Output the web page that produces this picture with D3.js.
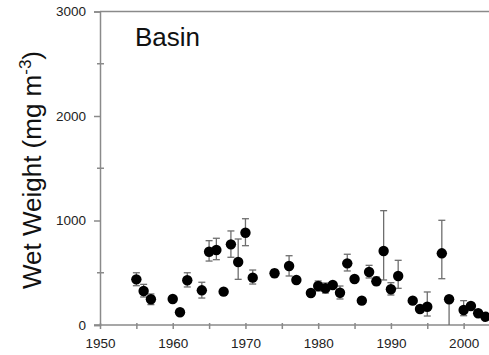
<!DOCTYPE html>
<html><head><meta charset="utf-8">
<script src="https://cdn.jsdelivr.net/npm/d3@7"></script>
<style>body{margin:0;background:#fff;overflow:hidden}svg{display:block}</style>
</head><body>
<script>
const years = [1955,1956,1957,1960,1961,1962,1964,1965,1966,1967,1968,1969,1970,1971,1974,1976,1977,1979,1980,1981,1982,1983,1984,1985,1986,1987,1988,1989,1990,1991,1993,1994,1995,1997,1998,2000,2001,2002,2003];
const values = [437,325,246,249,122,428,332,701,718,319,772,603,883,453,495,565,431,306,373,351,383,309,590,440,233,507,418,708,342,469,233,153,175,686,246,144,182,112,79];
const upper  = [500,389,297,249,122,500,409,807,830,340,900,823,1017,526,531,663,431,306,421,402,383,373,677,440,233,571,459,1094,405,619,233,153,316,1002,246,233,182,112,79];
const lower  = [376,268,195,249,122,364,258,612,625,300,648,437,759,392,459,469,431,306,325,306,383,249,517,440,233,450,383,431,287,351,233,153,86,443,0,89,182,112,79];
const yTicksMajor = [0,1000,2000,3000];
const yTicksMinor = [500,1500,2500];
const xTicks = [1950,1955,1960,1965,1970,1975,1980,1985,1990,1995,2000,2005];
const xLabels = [1950,1960,1970,1980,1990,2000];
const panelLabel = "Basin";

const W = 489, H = 355;
const svg = d3.select("body").append("svg").attr("width", W).attr("height", H);
const x = d3.scaleLinear().domain([1950, 2005]).range([100, 500]);
const y = d3.scaleLinear().domain([0, 3000]).range([325, 11.5]);
const axisCol = "#8a8a8a", font = "Arial, 'Liberation Sans', sans-serif";

// top frame line
svg.append("line").attr("x1", x(1950)).attr("x2", W).attr("y1", y(3000)).attr("y2", y(3000))
  .attr("stroke", axisCol).attr("stroke-width", 1.5);

// y axis
const ya = svg.append("g").attr("transform", `translate(${x(1950)},0)`)
  .call(d3.axisLeft(y).tickValues(yTicksMajor).tickSize(6).tickPadding(8).tickFormat(d3.format("d")));
ya.select(".domain").attr("stroke", axisCol).attr("stroke-width", 1.5);
ya.selectAll(".tick line").attr("stroke", axisCol).attr("stroke-width", 1.5);
ya.selectAll(".tick text").attr("font-family", font).attr("font-size", 13.5).attr("fill", "#222");
svg.append("g").selectAll("line").data(yTicksMinor).join("line")
  .attr("x1", x(1950) - 3).attr("x2", x(1950) + 4)
  .attr("y1", d => y(d)).attr("y2", d => y(d))
  .attr("stroke", axisCol).attr("stroke-width", 1.5);

// x axis
const xa = svg.append("g").attr("transform", `translate(0,${y(0)})`)
  .call(d3.axisBottom(x).tickValues(xTicks).tickSize(4).tickPadding(9)
    .tickFormat(d => xLabels.includes(d) ? d : ""));
xa.select(".domain").attr("stroke", axisCol).attr("stroke-width", 1.5).attr("d", `M${x(1950)-6},0H${W}`);
xa.selectAll(".tick line").attr("stroke", axisCol).attr("stroke-width", 1.5).attr("y1", -2);
xa.selectAll(".tick text").attr("font-family", font).attr("font-size", 13.5).attr("fill", "#222");

// error bars
const data = years.map((yr, i) => ({yr, v: values[i], hi: upper[i], lo: lower[i]}));
const eb = svg.append("g").attr("stroke", "#6e6e6e").attr("stroke-width", 1.3);
data.filter(d => d.hi > d.v).forEach(d => {
  eb.append("line").attr("x1", x(d.yr)).attr("x2", x(d.yr)).attr("y1", y(d.v)).attr("y2", y(d.hi));
  eb.append("line").attr("x1", x(d.yr) - 3.5).attr("x2", x(d.yr) + 3.5).attr("y1", y(d.hi)).attr("y2", y(d.hi));
});
data.filter(d => d.lo < d.v).forEach(d => {
  eb.append("line").attr("x1", x(d.yr)).attr("x2", x(d.yr)).attr("y1", y(d.v)).attr("y2", y(d.lo));
  if (d.lo > 0) eb.append("line").attr("x1", x(d.yr) - 3.5).attr("x2", x(d.yr) + 3.5).attr("y1", y(d.lo)).attr("y2", y(d.lo));
});

// points
svg.append("g").selectAll("circle").data(data).join("circle")
  .attr("cx", d => x(d.yr)).attr("cy", d => y(d.v)).attr("r", 5.2).attr("fill", "#000");

// labels
svg.append("text").attr("x", 135).attr("y", 46).attr("font-family", font).attr("font-size", 26)
  .attr("fill", "#111").text(panelLabel);
const yt = svg.append("text").attr("transform", "translate(41,170) rotate(-90)")
  .attr("text-anchor", "middle").attr("font-family", font).attr("font-size", 26).attr("fill", "#111");
yt.append("tspan").text("Wet Weight (mg m");
yt.append("tspan").attr("font-size", 17).attr("dy", -10).text("-3");
yt.append("tspan").attr("dy", 10).text(")");
</script>
</body></html>
